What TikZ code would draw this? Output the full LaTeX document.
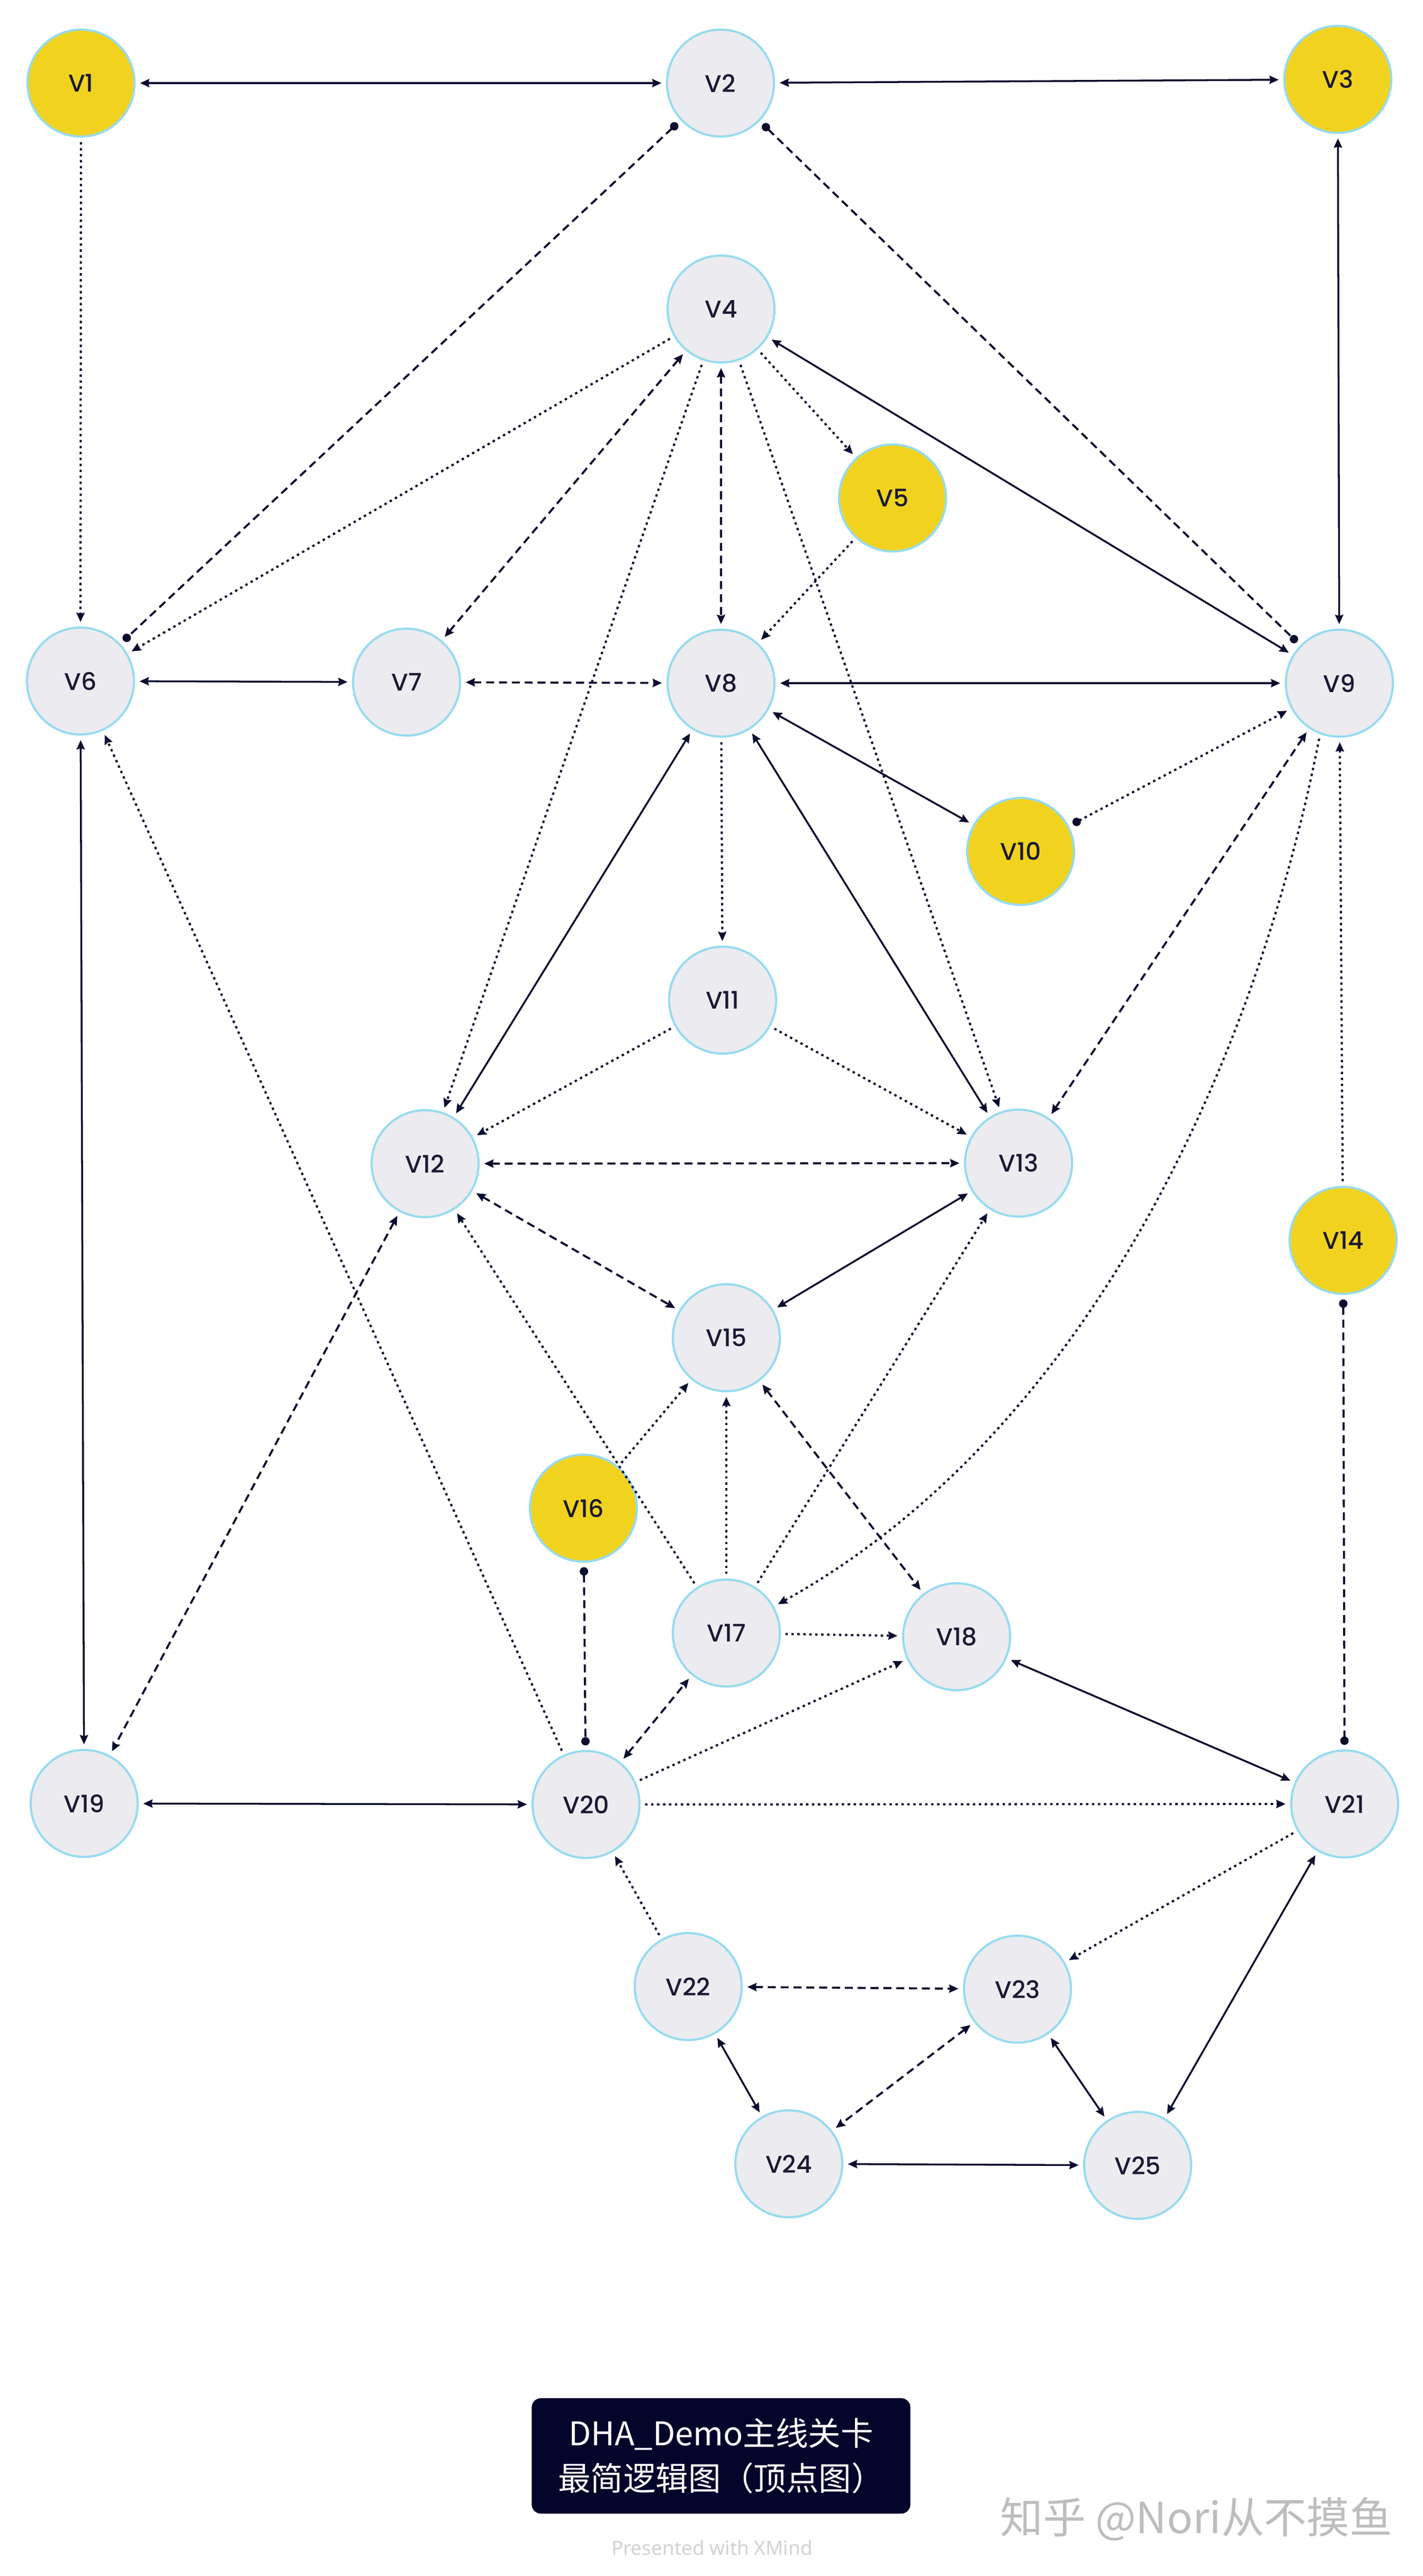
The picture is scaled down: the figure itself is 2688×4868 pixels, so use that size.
\documentclass[tikz,border=0pt]{standalone}
\usepackage{fontspec}
\setmainfont{Poppins}[UprightFont=* Medium]
\newfontfamily\cjkf{Noto Sans CJK SC}
\newfontfamily\notos{Noto Sans}
\usetikzlibrary{arrows.meta}
\definecolor{lc}{HTML}{0B0D2E}
\definecolor{ylw}{HTML}{F1D31F}
\definecolor{gry}{HTML}{ECEBEF}
\definecolor{bdr}{HTML}{96DBF0}
\definecolor{boxc}{HTML}{04052B}
\definecolor{txt}{HTML}{1A1A35}
\definecolor{presc}{HTML}{D2D2D2}
\definecolor{wmk}{HTML}{BDBDBD}
\begin{document}
\begin{tikzpicture}[x=0.01cm,y=-0.01cm,
  vtx/.style={circle, minimum size=2.02cm, inner sep=0pt, outer sep=3pt, draw=bdr, line width=1.15pt, fill=gry, text=txt, font=\fontsize{13pt}{16pt}\selectfont},
  yv/.style={vtx, fill=ylw},
  ln/.style={draw=lc, line width=1pt},
  sol/.style={ln},
  dsh/.style={ln, line width=1.1pt, dash pattern=on 4.3pt off 2.6pt},
  dtl/.style={ln, line width=1.15pt, dash pattern=on 1.3pt off 1.9pt},
  >={Stealth[length=5pt,width=4.4pt,inset=0.6pt]},
  dd/.style={{Circle[length=4.5pt]}-{Circle[length=4.5pt]}},
  dar/.style={{Circle[length=4.5pt]}->},
]
\useasboundingbox (0,0) rectangle (2688,4868);
\fill[white] (0,0) rectangle (2688,4868);

\node[yv]  (V1)  at (153,157)  {V1};
\node[vtx] (V2)  at (1361,157) {V2};
\node[yv]  (V3)  at (2527,150) {V3};
\node[vtx] (V4)  at (1362,584) {V4};
\node[yv]  (V5)  at (1686,941) {V5};
\node[vtx] (V6)  at (152,1287) {V6};
\node[vtx] (V7)  at (768,1289) {V7};
\node[vtx] (V8)  at (1362,1291) {V8};
\node[vtx] (V9)  at (2530,1291) {V9};
\node[yv]  (V10) at (1928,1609) {V10};
\node[vtx] (V11) at (1365,1890) {V11};
\node[vtx] (V12) at (803,2199) {V12};
\node[vtx] (V13) at (1924,2198) {V13};
\node[yv]  (V14) at (2537,2344) {V14};
\node[vtx] (V15) at (1372,2528) {V15};
\node[yv]  (V16) at (1102,2850) {V16};
\node[vtx] (V17) at (1372,3086) {V17};
\node[vtx] (V18) at (1807,3093) {V18};
\node[vtx] (V19) at (159,3408) {V19};
\node[vtx] (V20) at (1107,3410) {V20};
\node[vtx] (V21) at (2540,3409) {V21};
\node[vtx] (V22) at (1300,3754) {V22};
\node[vtx] (V23) at (1922,3759) {V23};
\node[vtx] (V24) at (1490,4089) {V24};
\node[vtx] (V25) at (2149,4092) {V25};

\draw[sol,<->] (V1) -- (V2);
\draw[sol,<->] (V2) -- (V3);
\draw[dtl,->] (V1) -- (V6);
\draw[sol,<->] (V3) -- (V9);
\draw[dsh,dd] (V2) -- (V6);
\draw[dsh,dd] (V2) -- (V9);
\draw[dtl,->] (V4) -- (V6);
\draw[dsh,<->] (V4) -- (V7);
\draw[dsh,<->] (V4) -- (V8);
\draw[dtl,->] (V4) -- (V12);
\draw[dtl,->] (V4) -- (V5);
\draw[dtl,->] (V4) -- (V13);
\draw[sol,<->] (V4) -- (V9);
\draw[dtl,->] (V5) -- (V8);
\draw[sol,<->] (V6) -- (V7);
\draw[dsh,<->] (V7) -- (V8);
\draw[sol,<->] (V8) -- (V9);
\draw[sol,<->] (V8) -- (V10);
\draw[dtl,dar] (V10) -- (V9);
\draw[dtl,->] (V8) -- (V11);
\draw[sol,<->] (V8) -- (V12);
\draw[sol,<->] (V8) -- (V13);
\draw[dtl,->] (V11) -- (V12);
\draw[dtl,->] (V11) -- (V13);
\draw[dsh,<->] (V12) -- (V13);
\draw[dsh,<->] (V9) -- (V13);
\draw[dtl,->] (V9.-110) .. controls (2390,1920) and (2100,2680) .. (V17);
\draw[dtl,->] (V14) -- (V9);
\draw[dsh,dd] (V14) -- (V21);
\draw[sol,<->] (V6) -- (V19);
\draw[dtl,->] (V20) -- (V6);
\draw[dsh,<->] (V12) -- (V19);
\draw[dsh,<->] (V12) -- (V15);
\draw[dtl,->] (V17) -- (V12);
\draw[sol,<->] (V13) -- (V15);
\draw[dtl,->] (V17) -- (V13);
\draw[dsh,<->] (V15) -- (V18);
\draw[dtl,->] (V16) -- (V15);
\draw[dtl,->] (V17) -- (V15);
\draw[dtl,->] (V17) -- (V18);
\draw[dsh,dd] (V16) -- (V20);
\draw[dsh,<->] (V20) -- (V17);
\draw[dtl,->] (V20) -- (V18);
\draw[sol,<->] (V18) -- (V21);
\draw[sol,<->] (V19) -- (V20);
\draw[dtl,->] (V20) -- (V21);
\draw[dtl,->] (V21) -- (V23);
\draw[sol,<->] (V21) -- (V25);
\draw[dtl,->] (V22) -- (V20);
\draw[dsh,<->] (V22) -- (V23);
\draw[sol,<->] (V22) -- (V24);
\draw[dsh,<->] (V23) -- (V24);
\draw[sol,<->] (V23) -- (V25);
\draw[sol,<->] (V24) -- (V25);

\node[fill=boxc, rounded corners=5pt, minimum width=7.15cm, minimum height=2.18cm, inner sep=0pt, text=white, align=center, font=\cjkf\fontsize{17.5pt}{24pt}\selectfont] (title) at (1362,4641) {DHA\_Demo主线关卡\\最简逻辑图（顶点图）};
\node[text=presc, inner sep=0pt, font=\notos\bfseries\fontsize{10.5pt}{12pt}\selectfont] (pres) at (1345,4815) {Presented with XMind};
\node[text=wmk, inner sep=0pt, font=\cjkf\fontsize{23pt}{26pt}\selectfont] (wm) at (2260,4760) {知乎 @Nori从不摸鱼};
\end{tikzpicture}
\end{document}
